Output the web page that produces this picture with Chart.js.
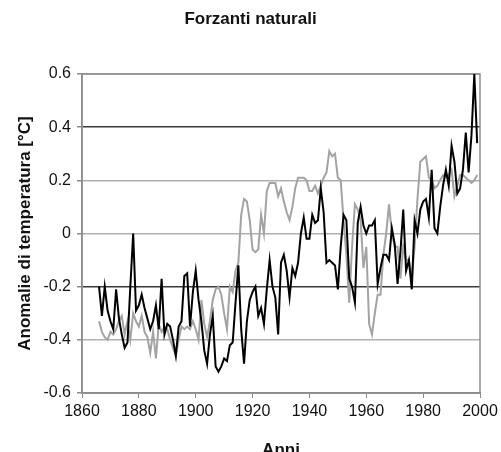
<!DOCTYPE html>
<html>
<head>
<meta charset="utf-8">
<script src="https://cdn.jsdelivr.net/npm/chart.js@4"></script>
<style>
  html, body { margin: 0; padding: 0; background: #fff; }
  #wrap { width: 501px; height: 452px; }
</style>
</head>
<body>
<div id="wrap"><canvas id="myChart" width="501" height="452"></canvas></div>
<script>
const years = [
  1866, 1867, 1868, 1869, 1870, 1871, 1872, 1873, 1874, 1875,
  1876, 1877, 1878, 1879, 1880, 1881, 1882, 1883, 1884, 1885,
  1886, 1887, 1888, 1889, 1890, 1891, 1892, 1893, 1894, 1895,
  1896, 1897, 1898, 1899, 1900, 1901, 1902, 1903, 1904, 1905,
  1906, 1907, 1908, 1909, 1910, 1911, 1912, 1913, 1914, 1915,
  1916, 1917, 1918, 1919, 1920, 1921, 1922, 1923, 1924, 1925,
  1926, 1927, 1928, 1929, 1930, 1931, 1932, 1933, 1934, 1935,
  1936, 1937, 1938, 1939, 1940, 1941, 1942, 1943, 1944, 1945,
  1946, 1947, 1948, 1949, 1950, 1951, 1952, 1953, 1954, 1955,
  1956, 1957, 1958, 1959, 1960, 1961, 1962, 1963, 1964, 1965,
  1966, 1967, 1968, 1969, 1970, 1971, 1972, 1973, 1974, 1975,
  1976, 1977, 1978, 1979, 1980, 1981, 1982, 1983, 1984, 1985,
  1986, 1987, 1988, 1989, 1990, 1991, 1992, 1993, 1994, 1995,
  1996, 1997, 1998, 1999
];

// osservazioni (linea nera)
const osservati = [
  -0.20, -0.31, -0.20, -0.29, -0.33, -0.36, -0.21, -0.32, -0.38, -0.43,
  -0.41, -0.20, 0.00, -0.29, -0.27, -0.23, -0.28, -0.32, -0.36, -0.33,
  -0.27, -0.36, -0.17, -0.38, -0.34, -0.35, -0.40, -0.46, -0.35, -0.33,
  -0.16, -0.15, -0.35, -0.22, -0.14, -0.25, -0.33, -0.44, -0.49, -0.38,
  -0.31, -0.50, -0.52, -0.50, -0.47, -0.48, -0.42, -0.41, -0.26, -0.12,
  -0.36, -0.49, -0.33, -0.25, -0.22, -0.20, -0.31, -0.28, -0.34, -0.21,
  -0.10, -0.20, -0.24, -0.38, -0.11, -0.08, -0.14, -0.24, -0.13, -0.16,
  -0.11, 0.00, 0.06, -0.02, -0.02, 0.07, 0.04, 0.05, 0.17, 0.08,
  -0.11, -0.10, -0.11, -0.12, -0.21, -0.05, 0.07, 0.05, -0.17, -0.20,
  -0.26, 0.04, 0.10, 0.03, 0.00, 0.03, 0.03, 0.05, -0.19, -0.13,
  -0.08, -0.08, -0.10, 0.02, -0.04, -0.19, -0.07, 0.09, -0.14, -0.10,
  -0.21, 0.05, 0.00, 0.09, 0.12, 0.13, 0.06, 0.24, 0.02, 0.00,
  0.10, 0.18, 0.24, 0.18, 0.33, 0.27, 0.15, 0.17, 0.24, 0.38,
  0.23, 0.37, 0.60, 0.34
];

// modello con soli forzanti naturali (linea grigia)
const modello = [
  -0.33, -0.37, -0.39, -0.40, -0.37, -0.38, -0.36, -0.33, -0.31, -0.38,
  -0.33, -0.40, -0.30, -0.33, -0.35, -0.31, -0.37, -0.39, -0.45, -0.37,
  -0.47, -0.34, -0.37, -0.35, -0.36, -0.40, -0.43, -0.46, -0.40, -0.35,
  -0.36, -0.35, -0.36, -0.33, -0.36, -0.40, -0.25, -0.34, -0.39, -0.33,
  -0.25, -0.21, -0.20, -0.23, -0.30, -0.36, -0.20, -0.22, -0.14, -0.11,
  0.07, 0.13, 0.12, 0.05, -0.06, -0.07, -0.06, 0.07, 0.00, 0.16,
  0.19, 0.19, 0.19, 0.14, 0.17, 0.12, 0.08, 0.05, 0.10, 0.17,
  0.21, 0.21, 0.21, 0.20, 0.16, 0.16, 0.18, 0.15, 0.18, 0.21,
  0.23, 0.31, 0.29, 0.30, 0.21, 0.20, 0.05, -0.08, -0.26, -0.05,
  0.11, 0.09, 0.05, -0.13, -0.05, -0.34, -0.38, -0.30, -0.23, -0.23,
  -0.08, 0.00, 0.11, 0.00, -0.05, -0.05, -0.17, -0.05, -0.10, -0.10,
  -0.17, -0.05, 0.13, 0.27, 0.28, 0.29, 0.21, 0.20, 0.17, 0.18,
  0.20, 0.22, 0.21, 0.22, 0.24, 0.14, 0.18, 0.22, 0.22, 0.21,
  0.20, 0.19, 0.20, 0.22
];

const darkLines = [0.4, -0.2];

const toPoints = vals => vals.map((v, i) => ({ x: years[i], y: v }));

// cornice grigia attorno all'area del grafico
const frame = {
  id: 'frame',
  beforeDatasetsDraw(chart) {
    const { ctx, chartArea: a } = chart;
    ctx.save();
    ctx.strokeStyle = '#8c8c8c';
    ctx.lineWidth = 1.5;
    ctx.strokeRect(a.left, a.top, a.right - a.left, a.bottom - a.top);
    ctx.restore();
  }
};

const ctx = document.getElementById('myChart');

new Chart(ctx, {
  type: 'line',
  data: {
    datasets: [
      {
        label: 'Osservati',
        data: toPoints(osservati),
        borderColor: '#000',
        borderWidth: 2,
        pointRadius: 0,
        tension: 0,
        order: 0
      },
      {
        label: 'Modello',
        data: toPoints(modello),
        borderColor: '#a3a3a3',
        borderWidth: 2,
        pointRadius: 0,
        tension: 0,
        order: 1
      }
    ]
  },
  options: {
    responsive: false,
    animation: false,
    layout: { padding: 0 },
    plugins: {
      legend: { display: false },
      tooltip: { enabled: false },
      title: {
        display: true,
        text: 'Forzanti naturali',
        color: '#111',
        font: { family: 'Liberation Sans', size: 17, weight: 'bold', lineHeight: 1.2 },
        padding: { top: 9, bottom: 44.6 }
      }
    },
    scales: {
      x: {
        type: 'linear',
        min: 1860,
        max: 2000,
        afterFit: s => { s.height = 59; s.paddingRight = 21; },
        ticks: {
          stepSize: 20,
          padding: 4,
          color: '#111',
          font: { family: 'Liberation Sans', size: 16 },
          maxRotation: 0,
          callback: v => String(v)
        },
        grid: { drawOnChartArea: false, drawTicks: true, tickLength: 5, color: '#8c8c8c' },
        border: { color: '#8c8c8c', width: 1.5 },
        title: {
          display: true,
          text: 'Anni',
          color: '#111',
          font: { family: 'Liberation Sans', size: 17, weight: 'bold', lineHeight: 0.15 },
          padding: 0
        }
      },
      y: {
        min: -0.6,
        max: 0.6,
        afterFit: s => { s.width = 82; },
        ticks: {
          stepSize: 0.2,
          padding: 6,
          color: '#111',
          font: { family: 'Liberation Sans', size: 16 },
          callback: v => Math.abs(v) < 1e-9 ? '0' : v.toFixed(1)
        },
        grid: {
          tickLength: 5,
          lineWidth: 1.5,
          color: c => darkLines.some(d => Math.abs(c.tick.value - d) < 1e-6) ? '#3a3a3a' : '#b0b0b0',
          tickColor: '#8c8c8c'
        },
        border: { color: '#8c8c8c', width: 1.5 },
        title: {
          display: true,
          text: 'Anomalie di temperatura [°C]',
          color: '#111',
          font: { family: 'Liberation Sans', size: 17, weight: 'bold', lineHeight: 1.2 },
          padding: { top: 15, bottom: 0 }
        }
      }
    }
  },
  plugins: [frame]
});
</script>
</body>
</html>
